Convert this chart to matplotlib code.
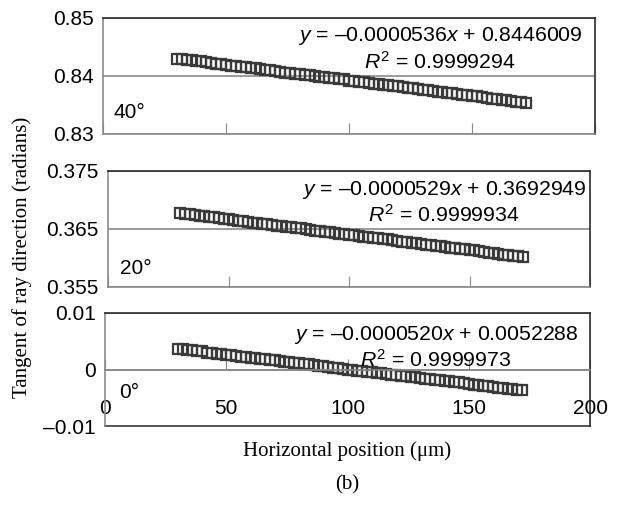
import matplotlib
matplotlib.use("Agg")
import matplotlib.pyplot as plt

# horizontal sample positions (um), same for each angle
x_pos = list(range(30, 173, 2))

# tangent of ray direction
y40 = [0.8430, 0.8429, 0.8428, 0.8427, 0.8426, 0.8425, 0.8424, 0.8422, 0.8421, 0.8420,
       0.8419, 0.8418, 0.8417, 0.8416, 0.8415, 0.8414, 0.8413, 0.8412, 0.8411, 0.8410,
       0.8408, 0.8407, 0.8406, 0.8405, 0.8404, 0.8403, 0.8402, 0.8401, 0.8400, 0.8399,
       0.8398, 0.8397, 0.8396, 0.8395, 0.8394, 0.8392, 0.8391, 0.8390, 0.8389, 0.8388,
       0.8387, 0.8386, 0.8385, 0.8384, 0.8383, 0.8382, 0.8381, 0.8380, 0.8379, 0.8377,
       0.8376, 0.8375, 0.8374, 0.8373, 0.8372, 0.8371, 0.8370, 0.8369, 0.8368, 0.8367,
       0.8366, 0.8365, 0.8364, 0.8362, 0.8361, 0.8360, 0.8359, 0.8358, 0.8357, 0.8356,
       0.8355, 0.8354]
y20 = [0.3677, 0.3676, 0.3675, 0.3674, 0.3673, 0.3672, 0.3671, 0.3670, 0.3669, 0.3668,
       0.3667, 0.3665, 0.3664, 0.3663, 0.3662, 0.3661, 0.3660, 0.3659, 0.3658, 0.3657,
       0.3656, 0.3655, 0.3654, 0.3653, 0.3652, 0.3651, 0.3650, 0.3648, 0.3647, 0.3646,
       0.3645, 0.3644, 0.3643, 0.3642, 0.3641, 0.3640, 0.3639, 0.3638, 0.3637, 0.3636,
       0.3635, 0.3634, 0.3633, 0.3632, 0.3631, 0.3630, 0.3628, 0.3627, 0.3626, 0.3625,
       0.3624, 0.3623, 0.3622, 0.3621, 0.3620, 0.3619, 0.3618, 0.3617, 0.3616, 0.3615,
       0.3614, 0.3613, 0.3612, 0.3610, 0.3609, 0.3608, 0.3607, 0.3606, 0.3605, 0.3604,
       0.3603, 0.3602]
y0 = [0.0037, 0.0036, 0.0035, 0.0034, 0.0033, 0.0032, 0.0030, 0.0029, 0.0028, 0.0027,
      0.0026, 0.0025, 0.0024, 0.0023, 0.0022, 0.0021, 0.0020, 0.0019, 0.0018, 0.0017,
      0.0016, 0.0015, 0.0014, 0.0013, 0.0012, 0.0011, 0.0010, 0.0009, 0.0008, 0.0007,
      0.0006, 0.0004, 0.0003, 0.0002, 0.0001, 0.0000, -0.0001, -0.0002, -0.0003, -0.0004,
      -0.0005, -0.0006, -0.0007, -0.0008, -0.0009, -0.0010, -0.0011, -0.0012, -0.0013, -0.0014,
      -0.0015, -0.0016, -0.0017, -0.0018, -0.0019, -0.0020, -0.0021, -0.0022, -0.0023, -0.0024,
      -0.0026, -0.0027, -0.0028, -0.0029, -0.0030, -0.0031, -0.0032, -0.0033, -0.0034, -0.0035,
      -0.0036, -0.0037]

ylims = [(0.83, 0.85), (0.355, 0.375), (-0.01, 0.01)]
yticks = [[0.83, 0.84, 0.85], [0.355, 0.365, 0.375], [-0.01, 0, 0.01]]
ytick_labels = [["0.83", "0.84", "0.85"], ["0.355", "0.365", "0.375"], ["\u20130.01", "0", "0.01"]]
angles = ["40\u00b0", "20\u00b0", "0\u00b0"]
eqs = ["$y$ = \u20130.0000536$x$ + 0.8446009",
       "$y$ = \u20130.0000529$x$ + 0.3692949",
       "$y$ = \u20130.0000520$x$ + 0.0052288"]
r2s = ["$R^2$ = 0.9999294", "$R^2$ = 0.9999934", "$R^2$ = 0.9999973"]
xticks = [0, 50, 100, 150, 200]

plt.rcParams['font.family'] = ['Liberation Sans', 'DejaVu Sans']
plt.rcParams['mathtext.fontset'] = 'custom'
plt.rcParams['mathtext.rm'] = 'Liberation Sans'
plt.rcParams['mathtext.it'] = 'Liberation Sans:italic'

W, H = 620, 509
fig = plt.figure(figsize=(W / 100, H / 100), dpi=100)

# panel boxes in pixels: (left, right, top, bottom)
boxes = [(103, 595, 18, 134), (108, 590, 171, 287), (105, 590, 313, 426)]
eq_y = [(36, 62), (190, 215), (335, 360)]
eq_x = [440, 444, 436]
ang_pos = [(113, 113), (120, 269), (119, 392)]

ys = [y40, y20, y0]
dark = '#2a2a2a'
grey = '#8a8a8a'

for i in range(3):
    left, right, top, bot = boxes[i]
    ax = fig.add_axes([left / W, 1 - bot / H, (right - left) / W, (bot - top) / H])
    ax.plot(x_pos, ys[i], 's', ms=7, mfc='none', mec='#3a3a3a', mew=1.6, ls='none')
    ax.set_xlim(0, 200)
    ax.set_ylim(*ylims[i])
    ax.set_yticks(yticks[i])
    ax.set_yticklabels(ytick_labels[i], fontsize=15)
    ax.tick_params(axis='y', length=0, pad=6.5)
    ax.grid(axis='y', color=grey, lw=1.2)
    ax.set_axisbelow(True)
    ax.spines['top'].set_color(dark)
    ax.spines['right'].set_color(dark)
    ax.spines['left'].set_color(grey)
    ax.spines['bottom'].set_color(grey)
    for s in ax.spines.values():
        s.set_linewidth(1.2)
    ax.set_xticks(xticks)
    if i < 2:
        ax.tick_params(axis='x', direction='in', length=8, color=grey, labelbottom=False)
    else:
        ax.spines['bottom'].set_position(('data', 0))
        ax.tick_params(axis='x', direction='in', length=8, color=grey, pad=21, labelsize=15)
        ax.axhline(-0.01, color='#555555', lw=1.4, clip_on=False)
    # trendline equation and angle label
    fig.text(eq_x[i] / W, 1 - eq_y[i][0] / H, eqs[i], fontsize=15.3, ha='center', va='center')
    fig.text(eq_x[i] / W, 1 - eq_y[i][1] / H, r2s[i], fontsize=15.3, ha='center', va='center')
    fig.text(ang_pos[i][0] / W, 1 - ang_pos[i][1] / H, angles[i], fontsize=15,
             ha='left', va='center')

fig.text(22 / W, 1 - 257 / H, "Tangent of ray direction (radians)", rotation=90,
         fontsize=15, family='Liberation Serif', ha='center', va='center')
fig.text(347 / W, 1 - 451 / H, "Horizontal position (\u03bcm)",
         fontsize=15, family='Liberation Serif', ha='center', va='center')
fig.text(347 / W, 1 - 485 / H, "(b)", fontsize=15, family='Liberation Serif',
         ha='center', va='center')

fig.savefig("out.png", dpi=100)
